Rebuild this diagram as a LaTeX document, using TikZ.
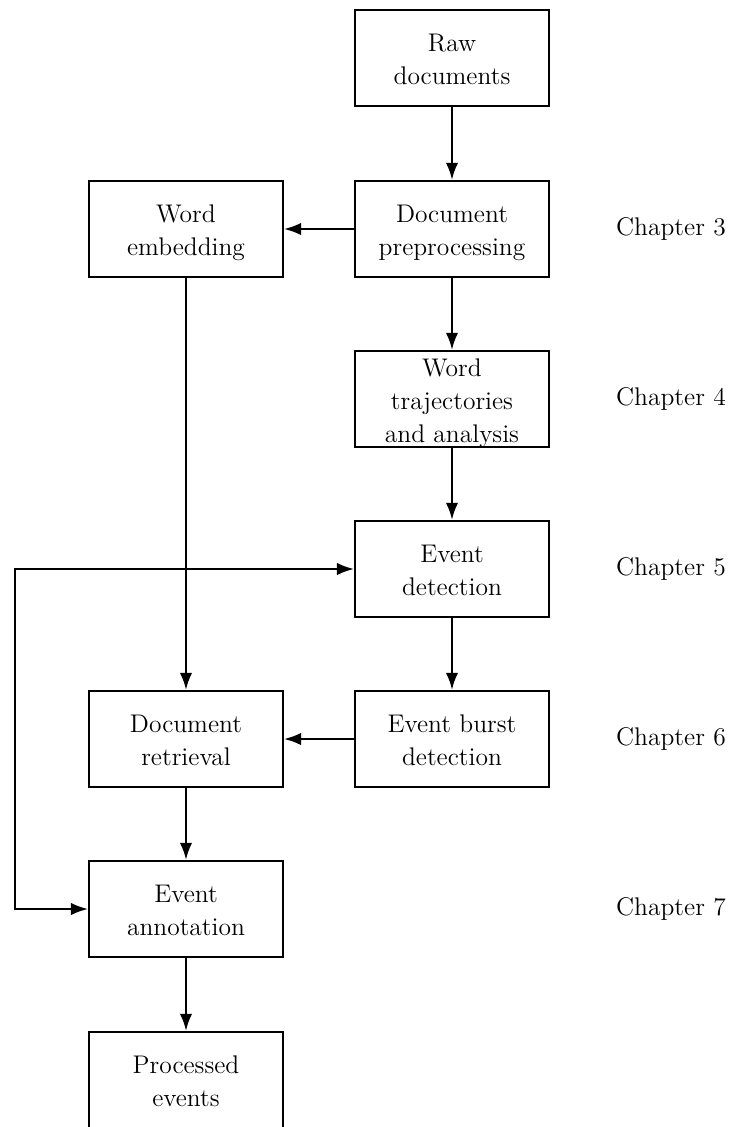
\documentclass[tikz,border=0pt]{standalone}
\usetikzlibrary{arrows.meta}
\newcommand\T[1]{\scalebox{0.78}{\fontsize{12}{15.5}\selectfont\begin{tabular}{@{}c@{}}#1\end{tabular}}}
\begin{document}
\begin{tikzpicture}[x=0.12903mm,y=-0.12903mm,
  box/.style={draw,line width=0.8pt,minimum width=2.5cm,minimum height=1.24cm,align=center,inner sep=1pt,text depth=0pt},
  boxtext/.style={anchor=center,inner sep=0pt,yshift=-1.4pt},
  conn/.style={line width=0.8pt,-{Latex[length=2.2mm,width=1.6mm]}},
  chap/.style={anchor=center}]
\useasboundingbox (0,0) rectangle (729,1127);
\node[box] (raw) at (452,58) {};
\node[boxtext] (rawt) at (raw.center) {\T{Raw\\documents}};
\node[box] (pre) at (452,229) {};
\node[boxtext] (pret) at (pre.center) {\T{Document\\preprocessing}};
\node[box] (emb) at (186,229) {};
\node[boxtext] (embt) at (emb.center) {\T{Word\\embedding}};
\node[box] (traj) at (452,399) {};
\node[boxtext] (trajt) at (traj.center) {\T{Word\\trajectories\\and analysis}};
\node[box] (det) at (452,569) {};
\node[boxtext] (dett) at (det.center) {\T{Event\\detection}};
\node[box] (burst) at (452,739) {};
\node[boxtext] (burstt) at (burst.center) {\T{Event burst\\detection}};
\node[box] (ret) at (186,739) {};
\node[boxtext] (rett) at (ret.center) {\T{Document\\retrieval}};
\node[box] (ann) at (186,909) {};
\node[boxtext] (annt) at (ann.center) {\T{Event\\annotation}};
\node[box] (proc) at (186,1080) {};
\node[boxtext] (proct) at (proc.center) {\T{Processed\\events}};
\node[chap] (c3) at (671,229) {\T{Chapter 3}};
\node[chap] (c4) at (671,399) {\T{Chapter 4}};
\node[chap] (c5) at (671,569) {\T{Chapter 5}};
\node[chap] (c6) at (671,739) {\T{Chapter 6}};
\node[chap] (c7) at (671,909) {\T{Chapter 7}};
\coordinate (lt) at (15,569);
\coordinate (lb) at (15,909);
\draw[conn] (raw) -- (pre);
\draw[conn] (pre) -- (emb);
\draw[conn] (pre) -- (traj);
\draw[conn] (traj) -- (det);
\draw[conn] (det) -- (burst);
\draw[conn] (burst) -- (ret);
\draw[conn] (emb) -- (ret);
\draw[conn] (ret) -- (ann);
\draw[conn] (ann) -- (proc);
\draw[line width=0.8pt,{Latex[length=2.2mm,width=1.6mm]}-{Latex[length=2.2mm,width=1.6mm]}] (det.west) -- (lt) -- (lb) -- (ann.west);
\end{tikzpicture}
\end{document}
